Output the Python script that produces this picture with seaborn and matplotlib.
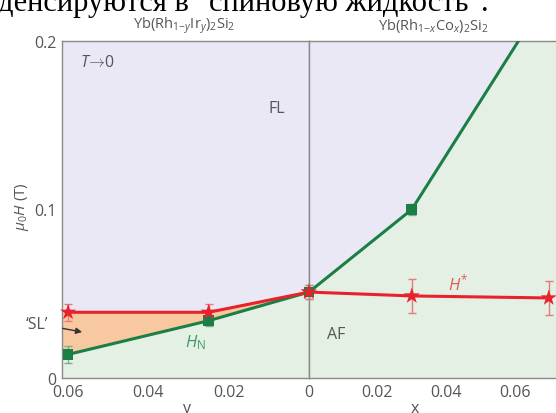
import numpy as np
import pandas as pd
import matplotlib
matplotlib.use("Agg")
import matplotlib.pyplot as plt
import seaborn as sns

# ---------------- data ----------------
# Yb(Rh1-yIry)2Si2 side (left, y axis reversed)
ir_y = [0.06, 0.025, 0.0]
ir_HN = [0.014, 0.034, 0.051]
ir_HN_err = [0.005, 0.003, 0.004]
ir_Hstar = [0.039, 0.039, 0.051]
ir_Hstar_err = [0.005, 0.005, 0.004]

# Yb(Rh1-xCox)2Si2 side (right)
co_x = [0.0, 0.03]
co_HN = [0.051, 0.100]
co_HN_err = [0.004, 0.003]
co_HN_line_x = [0.0, 0.03, 0.073]
co_HN_line = [0.051, 0.100, 0.238]
co_xs = [0.0, 0.03, 0.07]
co_Hstar = [0.051, 0.0487, 0.0475]
co_Hstar_err = [0.004, 0.010, 0.010]

y_ticks = [0.06, 0.04, 0.02, 0.0]
y_ticklabels = ["0.06", "0.04", "0.02", "0"]
x_ticks = [0.0, 0.02, 0.04, 0.06]
x_ticklabels = ["", "0.02", "0.04", "0.06"]
h_ticks = [0.0, 0.1, 0.2]
h_ticklabels = ["0", "0.1", "0.2"]

# ---------------- style ----------------
sns.set_theme(style="white")
plt.rcParams["font.family"] = ["Open Sans", "DejaVu Sans"]
plt.rcParams["mathtext.fontset"] = "custom"
plt.rcParams["mathtext.rm"] = "Open Sans"
plt.rcParams["mathtext.it"] = "Open Sans:italic"

C_FL = "#e9e8f4"
C_AF = "#e3f0e3"
C_SL = "#f8c9a0"
C_RED = "#e8222c"
C_GRN = "#1b7f45"
C_REDERR = "#e77a7a"
C_GRNERR = "#7aae8e"
C_TXT = "#555555"
C_SPINE = "#8a8a8a"

W, H = 556, 414
fig = plt.figure(figsize=(W / 100, H / 100), dpi=100)
top_px, bot_px, left_px, mid_px = 42, 379, 62, 309
axL = fig.add_axes([left_px / W, 1 - bot_px / H, (mid_px - left_px) / W, (bot_px - top_px) / H])
axR = fig.add_axes([mid_px / W, 1 - bot_px / H, (W - mid_px) / W, (bot_px - top_px) / H])

yl_max = (mid_px - left_px) / 80.3 * 0.02
xr_max = (W - mid_px) / 68.5 * 0.02
for ax in (axL, axR):
    ax.set_ylim(0, 0.2)
    ax.set_facecolor(C_FL)
axL.set_xlim(yl_max, 0)
axR.set_xlim(0, xr_max)

# ---------------- fills ----------------
gl = np.linspace(0, yl_max, 200)
hn_l = np.interp(gl, ir_y[::-1], ir_HN[::-1])
hs_l = np.interp(gl, ir_y[::-1], ir_Hstar[::-1])
axL.fill_between(gl, 0, hn_l, color=C_AF, lw=0, zorder=0)
axL.fill_between(gl, hn_l, hs_l, color=C_SL, lw=0, zorder=0)

gr = np.linspace(0, xr_max, 200)
hn_r = np.interp(gr, co_HN_line_x, co_HN_line)
axR.fill_between(gr, 0, hn_r, color=C_AF, lw=0, zorder=0)

# ---------------- lines & markers ----------------
dfL = pd.DataFrame({"c": ir_y, "HN": ir_HN, "Hs": ir_Hstar})
dfRline = pd.DataFrame({"c": co_HN_line_x, "HN": co_HN_line})
dfRs = pd.DataFrame({"c": co_xs, "Hs": co_Hstar})
dfRn = pd.DataFrame({"c": co_x, "HN": co_HN})

sns.lineplot(data=dfL, x="c", y="HN", ax=axL, color=C_GRN, lw=2.2, sort=False, zorder=3)
sns.lineplot(data=dfL, x="c", y="Hs", ax=axL, color=C_RED, lw=2.2, sort=False, zorder=4)
sns.lineplot(data=dfRline, x="c", y="HN", ax=axR, color=C_GRN, lw=2.2, sort=False, zorder=3)
sns.lineplot(data=dfRs, x="c", y="Hs", ax=axR, color=C_RED, lw=2.2, sort=False, zorder=4)

axL.errorbar(ir_y, ir_HN, yerr=ir_HN_err, fmt="none", ecolor=C_GRNERR, elinewidth=1, capsize=3, zorder=5)
axL.errorbar(ir_y, ir_Hstar, yerr=ir_Hstar_err, fmt="none", ecolor=C_REDERR, elinewidth=1, capsize=3, zorder=5)
axR.errorbar(co_x, co_HN, yerr=co_HN_err, fmt="none", ecolor=C_GRNERR, elinewidth=1, capsize=3, zorder=5)
axR.errorbar(co_xs, co_Hstar, yerr=co_Hstar_err, fmt="none", ecolor=C_REDERR, elinewidth=1, capsize=3, zorder=5)

sns.scatterplot(data=dfL, x="c", y="HN", ax=axL, marker="s", s=60, color=C_GRN, edgecolor="none", zorder=6, clip_on=False)
sns.scatterplot(data=dfL, x="c", y="Hs", ax=axL, marker="*", s=150, color=C_RED, edgecolor="none", zorder=7, clip_on=False)
sns.scatterplot(data=dfRn, x="c", y="HN", ax=axR, marker="s", s=60, color=C_GRN, edgecolor="none", zorder=6, clip_on=False)
sns.scatterplot(data=dfRs, x="c", y="Hs", ax=axR, marker="*", s=150, color=C_RED, edgecolor="none", zorder=7, clip_on=False)

# ---------------- axes styling ----------------
for ax in (axL, axR):
    ax.set_xlabel("")
    ax.set_ylabel("")
    for s in ax.spines.values():
        s.set_color(C_SPINE)
        s.set_linewidth(1.0)
axR.spines["right"].set_visible(False)

axL.set_xticks(y_ticks)
axL.set_xticklabels(y_ticklabels)
axL.set_xticks(np.arange(0.005, 0.0601, 0.005), minor=True)
axR.set_xticks(x_ticks)
axR.set_xticklabels(x_ticklabels)
axR.set_xticks(np.arange(0.005, 0.0701, 0.005), minor=True)
axL.set_yticks(h_ticks)
axL.set_yticklabels(h_ticklabels)
axL.set_yticks(np.arange(0.02, 0.2, 0.02), minor=True)
axR.set_yticks([])

for ax in (axL, axR):
    ax.tick_params(axis="both", which="major", direction="in", length=5, width=1,
                   color=C_SPINE, labelcolor=C_TXT, labelsize=11.5, pad=4)
    ax.tick_params(axis="both", which="minor", direction="in", length=3, width=1, color=C_SPINE)
    ax.tick_params(axis="y", which="both", right=False)
    ax.tick_params(axis="x", which="both", top=False)

# ---------------- labels ----------------
axL.text(0.057, 0.1875, r"$T\!\rightarrow\!$0", fontsize=11.5, color=C_TXT, ha="left", va="center")
axL.text(0.008, 0.16, "FL", fontsize=11.5, color=C_TXT, ha="center", va="center")
axR.text(0.0079, 0.026, "AF", fontsize=11.5, color=C_TXT, ha="center", va="center")
axL.text(0.0284, 0.0214, r"$H_{\rm N}$", fontsize=12, color="#3a9a66", ha="center", va="center")
axR.text(0.0435, 0.0565, r"$H^{*}$", fontsize=12, color="#e25a5a", ha="center", va="center")
axL.annotate("\u2018SL\u2019", xy=(0.0565, 0.0273), xytext=(0.0677, 0.0322),
             fontsize=11.5, color=C_TXT, ha="center", va="center", annotation_clip=False,
             arrowprops=dict(arrowstyle="-|>", color="#333333", lw=1, mutation_scale=9,
                             shrinkA=8, shrinkB=0))

fig.text(22 / W, 1 - 207 / H, r"$\mu_0H$ (T)", rotation=90, fontsize=11, color=C_TXT,
         ha="center", va="center")
fig.text(184 / W, 1 - 26 / H, r"Yb(Rh$_{1\!-\!y}$Ir$_y$)$_2$Si$_2$", fontsize=10.5, color=C_TXT,
         ha="center", va="center")
fig.text(433 / W, 1 - 26 / H, r"Yb(Rh$_{1\!-\!x}$Co$_x$)$_2$Si$_2$", fontsize=10.5, color=C_TXT,
         ha="center", va="center")
fig.text(186 / W, 1 - 401 / H, "y", fontsize=11.5, color=C_TXT, ha="center", va="top")
fig.text(415 / W, 1 - 401 / H, "x", fontsize=11.5, color=C_TXT, ha="center", va="top")

fig.text(-2 / W, 1 - 11 / H, "денсируются в \"спиновую жидкость\".", fontsize=22,
         family=["Liberation Serif", "DejaVu Serif"], color="black", ha="left", va="baseline")

fig.savefig("out.png", dpi=100)
